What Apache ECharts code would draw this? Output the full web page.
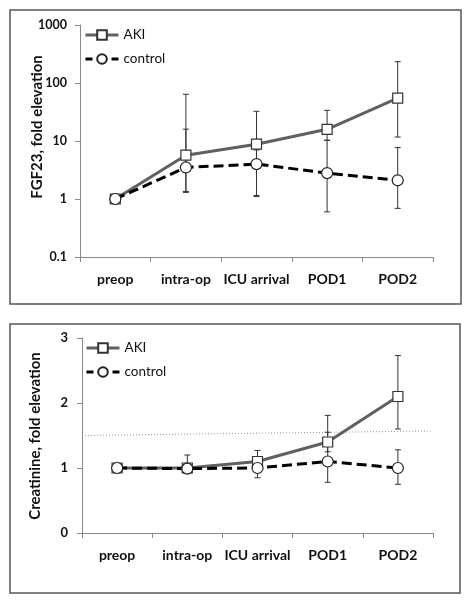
<!DOCTYPE html>
<html><head><meta charset="utf-8">
<script src="https://cdn.jsdelivr.net/npm/echarts@6/dist/echarts.min.js"></script>
<style>html,body{margin:0;padding:0;background:#fff}#c{width:466px;height:600px}</style>
</head><body><div id="c"></div>
<script>
const categories = ['preop', 'intra-op', 'ICU arrival', 'POD1', 'POD2'];
// FGF23 fold elevation (log scale)
const fgfAKI = [1, 5.7, 8.8, 15.9, 55];
const fgfAKILow = [1, 1.35, 1.1, 10.3, 11.7];
const fgfAKIHigh = [1, 64, 32.5, 33.8, 233];
const fgfCtl = [1, 3.5, 4.0, 2.8, 2.1];
const fgfCtlLow = [1, 1.3, 1.15, 0.6, 0.69];
const fgfCtlHigh = [1, 16, 7, 10.3, 7.7];
const fgfTicks = [0.1, 1, 10, 100, 1000];
// Creatinine fold elevation
const crAKI = [1, 1.0, 1.1, 1.4, 2.1];
const crAKILow = [1, 0.97, 0.93, 1.25, 1.6];
const crAKIHigh = [1, 1.2, 1.27, 1.81, 2.73];
const crCtl = [1, 0.99, 1.0, 1.1, 1.0];
const crCtlLow = [1, 0.96, 0.85, 0.78, 0.75];
const crCtlHigh = [1, 1.03, 1.15, 1.55, 1.28];
const crTicks = [0, 1, 2, 3];
const threshold = [[0, 1.5], [1, 1.57]];

const FONT = 'Lato';
const axisColor = '#888';

function errSeries(name, xi, yi, lows, highs) {
  return {
    type: 'custom', name: name, xAxisIndex: xi, yAxisIndex: yi, z: 1, silent: true,
    data: lows.map((l, i) => [i, l, highs[i]]),
    renderItem: function (params, api) {
      const i = api.value(0);
      const lo = api.coord([i, api.value(1)]);
      const hi = api.coord([i, api.value(2)]);
      const w = 3;
      const st = { stroke: '#333', lineWidth: 1 };
      return { type: 'group', children: [
        { type: 'line', shape: { x1: lo[0], y1: lo[1], x2: hi[0], y2: hi[1] }, style: st },
        { type: 'line', shape: { x1: lo[0] - w, y1: lo[1], x2: lo[0] + w, y2: lo[1] }, style: st },
        { type: 'line', shape: { x1: hi[0] - w, y1: hi[1], x2: hi[0] + w, y2: hi[1] }, style: st }
      ]};
    }
  };
}
function aki(data, xi, yi) {
  return { type: 'line', name: 'AKI', xAxisIndex: xi, yAxisIndex: yi, data: data, z: 3,
    symbol: 'rect', symbolSize: 10, showAllSymbol: true,
    lineStyle: { color: '#606060', width: 3 },
    itemStyle: { color: '#fff', borderColor: '#333', borderWidth: 1.2 } };
}
function ctl(data, xi, yi) {
  return { type: 'line', name: 'control', xAxisIndex: xi, yAxisIndex: yi, data: data, z: 4,
    symbol: 'circle', symbolSize: 11, showAllSymbol: true,
    lineStyle: { color: '#000', width: 3, type: [10, 5] },
    itemStyle: { color: '#fff', borderColor: '#222', borderWidth: 1.2 } };
}
function catAxis(gi) {
  return { type: 'category', gridIndex: gi, data: categories, boundaryGap: true,
    axisLine: { lineStyle: { color: axisColor, width: 1 } },
    axisTick: { show: true, length: 5, lineStyle: { color: axisColor } },
    axisLabel: { color: '#111', fontFamily: FONT, fontWeight: 'bold', fontSize: 14, margin: 15, interval: 0 } };
}
const legendText = { fontFamily: FONT, fontSize: 13.5, color: '#111' };
const legendData = [
  { name: 'AKI', lineStyle: { type: 'solid', width: 3, color: '#606060' } },
  { name: 'control', lineStyle: { type: [7, 19], width: 3, color: '#000' } }
];
const chart = echarts.init(document.getElementById('c'), null, { renderer: 'canvas' });
chart.setOption({
  animation: false,
  backgroundColor: '#fff',
  graphic: [
    { type: 'rect', shape: { x: 10, y: 10, width: 451, height: 294 }, style: { fill: 'none', stroke: '#555', lineWidth: 1.5 } },
    { type: 'rect', shape: { x: 10, y: 324, width: 450, height: 269 }, style: { fill: 'none', stroke: '#555', lineWidth: 1.5 } },
    { type: 'text', x: 37, y: 127, rotation: Math.PI / 2, style: { text: 'FGF23, fold elevation', font: 'bold 15px Lato', fill: '#111', textAlign: 'center', textVerticalAlign: 'middle' } },
    { type: 'text', x: 35, y: 436, rotation: Math.PI / 2, style: { text: 'Creatinine, fold elevation', font: 'bold 15px Lato', fill: '#111', textAlign: 'center', textVerticalAlign: 'middle' } }
  ],
  grid: [
    { left: 80, right: 33, top: 25, bottom: 343 },
    { left: 82, right: 33, top: 338, bottom: 67 }
  ],
  legend: [
    { data: legendData, orient: 'vertical', left: 84, top: 28, padding: 0, itemWidth: 33, itemHeight: 12, itemGap: 10,
      textStyle: legendText, selectedMode: false },
    { data: legendData, orient: 'vertical', left: 85, top: 341, padding: 0, itemWidth: 33, itemHeight: 12, itemGap: 10,
      textStyle: legendText, selectedMode: false }
  ],
  xAxis: [
    catAxis(0), catAxis(1),
    { type: 'value', gridIndex: 1, min: 0, max: 1, show: false }
  ],
  yAxis: [
    { type: 'log', gridIndex: 0, logBase: 10, min: fgfTicks[0], max: fgfTicks[fgfTicks.length - 1],
      axisLine: { show: true, lineStyle: { color: axisColor } },
      axisTick: { show: true, length: 5, lineStyle: { color: axisColor } },
      splitLine: { show: false },
      axisLabel: { color: '#111', fontFamily: FONT, fontWeight: 'bold', fontSize: 12.5, margin: 13,
        formatter: v => String(+v.toPrecision(3)) } },
    { type: 'value', gridIndex: 1, min: crTicks[0], max: crTicks[crTicks.length - 1], interval: 1,
      axisLine: { show: true, lineStyle: { color: axisColor } },
      axisTick: { show: true, length: 5, lineStyle: { color: axisColor } },
      splitLine: { show: false },
      axisLabel: { color: '#111', fontFamily: FONT, fontWeight: 'bold', fontSize: 13, margin: 14 } }
  ],
  series: [
    errSeries('errA', 0, 0, fgfAKILow, fgfAKIHigh),
    errSeries('errC', 0, 0, fgfCtlLow, fgfCtlHigh),
    aki(fgfAKI, 0, 0), ctl(fgfCtl, 0, 0),
    { type: 'line', name: 'threshold', xAxisIndex: 2, yAxisIndex: 1, data: threshold, symbol: 'none', z: 0,
      lineStyle: { color: '#999', width: 1, type: [1, 2] } },
    errSeries('errA2', 1, 1, crAKILow, crAKIHigh),
    errSeries('errC2', 1, 1, crCtlLow, crCtlHigh),
    aki(crAKI, 1, 1), ctl(crCtl, 1, 1)
  ]
});
</script></body></html>
